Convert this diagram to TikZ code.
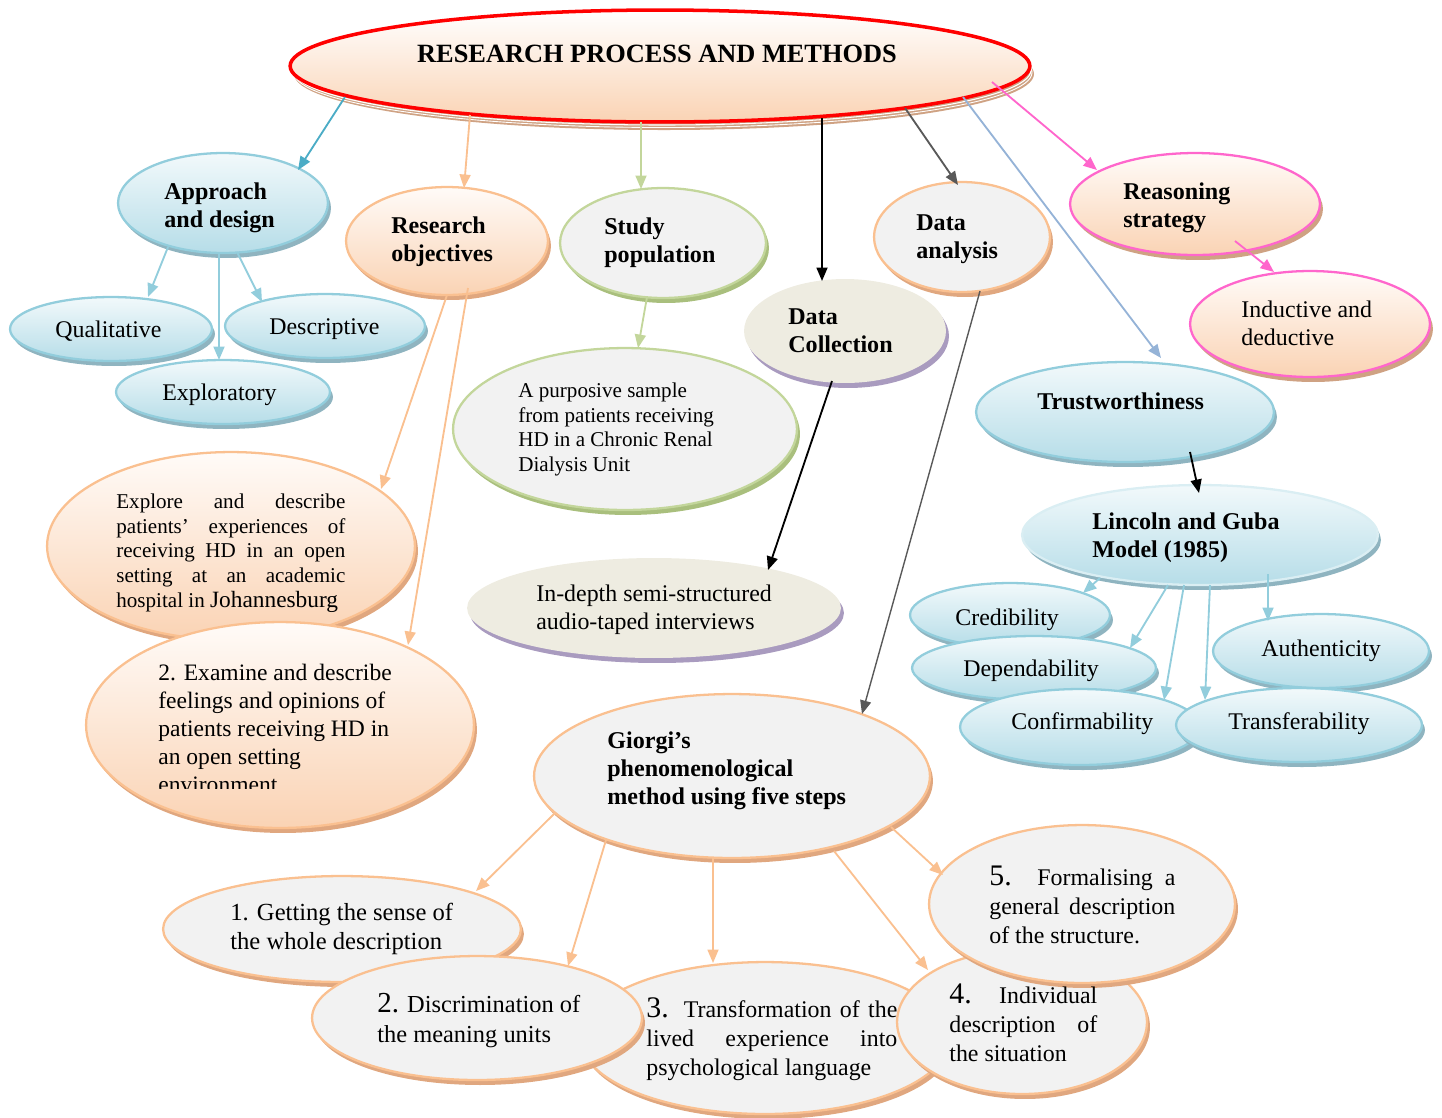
\documentclass[tikz,border=0pt]{standalone}
\usepackage{fontspec}
\setmainfont{Liberation Serif}
\usetikzlibrary{shapes.geometric,shadows,arrows.meta,calc}
\newlength\upx \setlength\upx{0.02cm}
\definecolor{bbord}{HTML}{92CDDC}
\definecolor{btop}{HTML}{F2F9FB}
\definecolor{bbot}{HTML}{B6DDE8}
\definecolor{bshad}{HTML}{8FB4C0}
\definecolor{obord}{HTML}{FAC090}
\definecolor{otop}{HTML}{FFFBF8}
\definecolor{obot}{HTML}{FAD3B4}
\definecolor{oshad}{HTML}{E0A77F}
\definecolor{gfill}{HTML}{F2F2F2}
\definecolor{gbord}{HTML}{C3D69B}
\definecolor{gshad}{HTML}{A9BF7D}
\definecolor{beige}{HTML}{EEECE1}
\definecolor{pshad}{HTML}{A99BBF}
\definecolor{mypink}{HTML}{FF66CC}
\definecolor{mytan}{HTML}{CFA283}
\definecolor{teal2}{HTML}{4BACC6}
\definecolor{lblue}{HTML}{95B3D7}
\definecolor{dgray}{HTML}{595959}
\definecolor{lbord}{HTML}{DAEEF3}
\definecolor{myred}{HTML}{FF0000}
\tikzset{
  ellbase/.style={ellipse, inner sep=0pt, line width=1.3pt},
  shb/.style={drop shadow={shadow xshift=0.06cm, shadow yshift=-0.1cm, fill=#1, opacity=1}},
  eblue/.style={ellbase, draw=bbord, top color=btop, bottom color=bbot, shb=bshad},
  eorange/.style={ellbase, draw=obord, top color=otop, bottom color=obot, shb=oshad},
  egreen/.style={ellbase, draw=gbord, fill=gfill, shb=gshad},
  egrayo/.style={ellbase, draw=obord, fill=gfill, shb=oshad},
  ebeige/.style={ellbase, fill=beige, shb=pshad},
  epink/.style={ellbase, draw=mypink, top color=otop, bottom color=obot, shb=mytan},
  elinc/.style={ellbase, draw=lbord, top color=btop, bottom color=bbot, shb=bshad},
  txt/.style={inner sep=0pt, anchor=base west, align=left, font=\fontsize{13.6}{15.9}\selectfont},
  txtb/.style={txt, font=\fontsize{13.7}{15.9}\selectfont\bfseries},
  arr/.style={line width=1.05pt, -{Triangle[length=0.27cm,width=0.22cm]}},
}
\newcommand\myell[6]{\node[#6, minimum width=#4*0.04cm, minimum height=#5*0.04cm] (#1) at (#2,#3) {};}
\newcommand\arro[5]{\draw[arr,#1] ($(#2.center)+(#3)$) -- ($(#4.center)+(#5)$);}
\begin{document}
\begin{tikzpicture}[x=0.02cm, y=-0.02cm]
\useasboundingbox (0,0) rectangle (1442,1117);
% main ellipse with shadow
\fill[mytan] (664,74) ellipse (370 and 56);
\draw[white, line width=0.6pt] (662,70) ellipse (369 and 55);
\draw[white, line width=0.5pt] (663,72.5) ellipse (369 and 55);
\myell{main}{660}{66}{370}{56}{ellbase, draw=myred, line width=2pt, top color=white, bottom color=obot}
\node[inner sep=0pt, anchor=base, font=\fontsize{15}{18}\selectfont\bfseries] (tMain) at (657,62) {RESEARCH PROCESS AND METHODS};
% approach
\myell{app}{223}{203}{105}{50}{eblue}
\myell{qual}{111}{329}{101}{32}{eblue}
\myell{desc}{325}{326}{100}{32}{eblue}
\myell{expl}{223}{392}{107}{32}{eblue}
% objectives
\myell{resobj}{447}{241}{101}{54}{eorange}
\myell{explo}{231}{546}{184}{94}{eorange}
\myell{exam}{280}{725}{194}{103}{eorange}
% study population
\myell{study}{663}{243}{103}{55}{egreen}
\myell{purp}{625}{429}{172}{81}{egreen}
% data collection
\myell{dcoll}{845}{331}{101}{52}{ebeige}
\myell{indep}{654}{608}{187}{50}{ebeige}
% data analysis
\myell{danal}{962}{237}{88}{55}{egrayo}
\myell{giorgi}{732}{776}{198}{82}{egrayo}
\myell{s1}{342}{929}{179}{53}{egrayo}
\myell{s3}{765}{1038}{185}{76}{egrayo}
\myell{s2}{477}{1018}{165}{62}{egrayo}
\myell{s4}{1022}{1022}{125}{72}{egrayo}
\myell{s5}{1082}{904}{153}{79}{egrayo}
% reasoning
\myell{reas}{1195}{204}{125}{51}{epink}
\myell{induc}{1310}{324}{120}{53}{epink}
% trustworthiness
\myell{trust}{1125}{412}{149}{50}{eblue}
\myell{linc}{1200}{535}{178}{50}{elinc}
\myell{cred}{1010}{615}{100}{32}{eblue}
\myell{depd}{1034}{668}{122}{32}{eblue}
\myell{conf}{1080}{727}{120}{38}{eblue}
\myell{auth}{1321}{651}{108}{37}{eblue}
\myell{trans}{1299}{725}{123}{37}{eblue}
% texts (anchor = baseline of the last line)
\node[txtb] (tApp) at (164,227) {Approach\\and design};
\node[txt] (tQual) at (55,337) {Qualitative};
\node[txt] (tDesc) at (269,334) {Descriptive};
\node[txt] (tExpl) at (162,400) {Exploratory};
\node[txtb] (tRes) at (391,261) {Research\\objectives};
\node[txtb] (tStudy) at (604,262) {Study\\population};
\node[txt, font=\fontsize{12}{13.9}\selectfont] (tPurp) at (518,471) {A purposive sample\\from patients receiving\\HD in a Chronic Renal\\Dialysis Unit};
\node[txtb] (tDcoll) at (788,352) {Data\\Collection};
\node[txt] (tIndep) at (536,629) {In-depth semi-structured\\audio-taped interviews};
\node[txtb] (tDanal) at (916,258) {Data\\analysis};
\node[txtb] (tReas) at (1123,227) {Reasoning\\strategy};
\node[txt] (tInduc) at (1241,345) {Inductive and\\deductive};
\node[txtb] (tTrust) at (1037,409) {Trustworthiness};
\node[txtb] (tLinc) at (1092,557) {Lincoln and Guba\\Model (1985)};
\node[txt] (tCred) at (955,625) {Credibility};
\node[txt] (tDepd) at (963,676) {Dependability};
\node[txt] (tConf) at (1011,729) {Confirmability};
\node[txt] (tAuth) at (1261,656) {Authenticity};
\node[txt] (tTrans) at (1228,729) {Transferability};
\node[txt, font=\fontsize{12}{14}\selectfont] (tExplo) at (116,607) {\makebox[229\upx][s]{Explore and describe}\\\makebox[229\upx][s]{patients’ experiences of}\\\makebox[229\upx][s]{receiving HD in an open}\\\makebox[229\upx][s]{setting at an academic}\\hospital in {\fontsize{13.3}{14}\selectfont Johannesburg}};
\begin{scope}
\clip (100,640) rectangle (480,788);
\node[txt, font=\fontsize{13.4}{15.9}\selectfont] (tExam) at (158,792) {2. Examine and describe\\feelings and opinions of\\patients receiving HD in\\an open setting\\environment};
\end{scope}
\node[txtb] (tGiorgi) at (607,804) {Giorgi’s\\phenomenological\\method using five steps};
\node[txt, font=\fontsize{14}{16}\selectfont] (tS1) at (230,949) {1. Getting the sense of\\the whole description};
\node[txt, font=\fontsize{13.9}{17}\selectfont] (tS2) at (377,1042) {{\fontsize{16.5}{16}\selectfont 2.} Discrimination of\\the meaning units};
\node[txt, font=\fontsize{13.6}{16.5}\selectfont] (tS3) at (646,1075) {\makebox[251\upx][s]{{\fontsize{17}{17}\selectfont 3.} Transformation of the}\\\makebox[251\upx][s]{lived experience into}\\psychological language};
\node[txt, font=\fontsize{13.6}{16.5}\selectfont] (tS4) at (949,1061) {\makebox[148\upx][s]{{\fontsize{17}{17}\selectfont 4.} Individual}\\\makebox[148\upx][s]{description of}\\the situation};
\node[txt, font=\fontsize{13.6}{16.5}\selectfont] (tS5) at (989,943) {\makebox[186\upx][s]{{\fontsize{17}{17}\selectfont 5.} Formalising a}\\\makebox[186\upx][s]{general description}\\of the structure.};
% connectors
\arro{teal2}{main}{-315,31}{app}{75,-33}
\arro{obord}{main}{-190,49}{resobj}{17,-53}
\arro{gbord}{main}{-19,56}{study}{-22,-54}
\arro{black}{main}{162,52}{dcoll}{-23,-50}
\arro{dgray}{main}{245,42}{danal}{-4,-52}
\arro{lblue}{main}{303,31}{trust}{36,-54}
\arro{mypink}{main}{332,16}{reas}{-98,-34}
\arro{bbord}{app}{-55,44}{qual}{37,-32}
\arro{bbord}{app}{-4,50}{expl}{-4,-32}
\arro{bbord}{app}{14,49}{desc}{-63,-24}
\arro{obord}{resobj}{0,54}{explo}{150,-57}
\arro{obord}{resobj}{21,47}{exam}{128,-80}
\arro{gbord}{study}{-16,54}{purp}{13,-81}
\arro{black}{dcoll}{-13,50}{indep}{114,-38}
\arro{dgray, line width=0.8pt}{danal}{18,54}{giorgi}{130,-62}
\arro{mypink}{reas}{40,37}{induc}{-36,-52}
\arro{black}{trust}{65,40}{linc}{-1,-42}
\arro{bbord}{linc}{-100,43}{cred}{73,-22}
\arro{bbord}{linc}{-32,50}{depd}{96,-20}
\arro{bbord}{linc}{-16,50}{conf}{84,-27}
\arro{bbord}{linc}{10,50}{trans}{-94,-25}
\arro{bbord}{linc}{68,39}{auth}{-53,-30}
\arro{obord}{giorgi}{-177,37}{s1}{134,-38}
\arro{obord}{giorgi}{-126,64}{s2}{91,-52}
\arro{obord}{giorgi}{-19,81}{s3}{-52,-75}
\arro{obord}{giorgi}{102,75}{s4}{-94,-52}
\arro{obord}{giorgi}{159,51}{s5}{-139,-29}
\end{tikzpicture}
\end{document}
